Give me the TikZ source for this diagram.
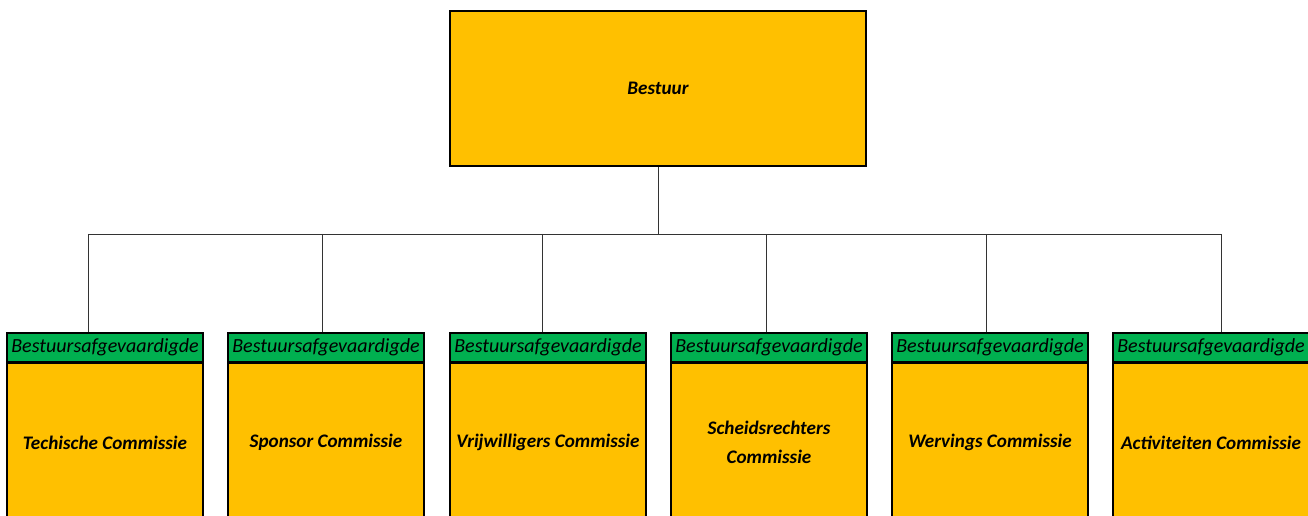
\documentclass[tikz,border=0pt]{standalone}
\usepackage{fontspec}
\setmainfont{Carlito}
\usepackage{xcolor}
\usetikzlibrary{positioning}

\definecolor{goud}{HTML}{FFC000}
\definecolor{groen}{HTML}{00B050}

\tikzset{
  blok/.style={draw, line width=0.9pt, fill=goud, inner sep=2pt, align=center,
    font=\fontsize{10.9}{16.5}\selectfont\bfseries\itshape},
  kop/.style={draw, line width=0.9pt, fill=groen, minimum width=3.92cm, minimum height=0.58cm,
    inner sep=0pt, font=\fontsize{11.4}{12}\selectfont\itshape},
  lijn/.style={draw=black!80, line width=0.5pt},
}

\begin{document}
\begin{tikzpicture}[x=0.02cm, y=-0.02cm]
  \useasboundingbox (0,0) rectangle (1308,516);
  \clip (0,0) rectangle (1308,516);
  \node[blok, minimum width=8.32cm, minimum height=3.1cm] (bestuur) at (658,88.5) {Bestuur};
  \coordinate (busL) at (88,234);
  \coordinate (busR) at (1221,234);
  \draw[lijn] (bestuur.south) -- (bestuur.south |- busL);
  \draw[lijn] (busL) -- (busR);
  \foreach \i/\xc/\xd/\lab in {1/105/88/{Techische Commissie},2/326/322/{Sponsor Commissie},3/548/542/{Vrijwilligers Commissie},
      4/769/766/{Scheidsrechters\\Commissie},5/990/986/{Wervings Commissie},6/1211/1221/{Activiteiten Commissie}}{
    \node[kop] (hdr\i) at (\xc,347.5) {Bestuursafgevaardigde};
    \node[blok, minimum width=3.92cm, minimum height=3.16cm, below=0pt of hdr\i] (cie\i) {\lab};
    \coordinate (d\i) at (\xd,333);
    \draw[lijn] (d\i |- busL) -- (hdr\i.north -| d\i);
  }
\end{tikzpicture}
\end{document}
